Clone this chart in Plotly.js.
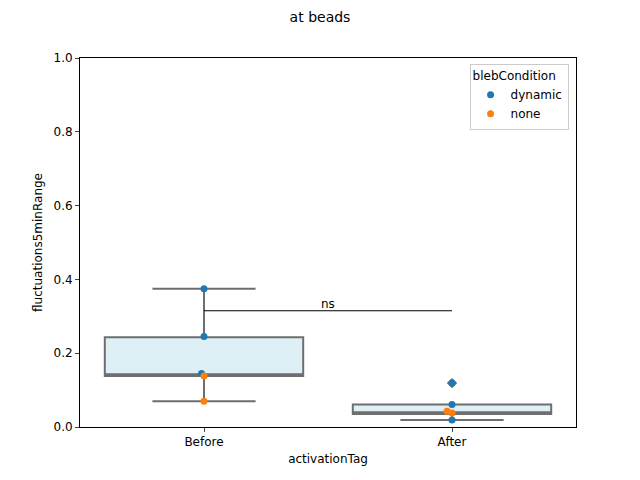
<!DOCTYPE html>
<html>
<head>
<script src="https://cdn.plot.ly/plotly-3.0.1.min.js"></script>
<style>body{margin:0}</style>
</head>
<body>
<div id="chart" style="width:640px;height:480px"></div>
<script>
// box stats per activationTag
var tags = ["Before", "After"];
var q1 = [0.138, 0.035];
var med = [0.143, 0.040];
var q3 = [0.243, 0.061];
var lowW = [0.070, 0.019];
var highW = [0.375, 0.061];
var outlierY = [0.119];
var outlierX = [1];

// strip points
var dynX = [0, 0, -0.01, 1, 1, 1];
var dynY = [0.375, 0.245, 0.145, 0.119, 0.061, 0.019];
var noneX = [0, 0, 0.98, 1];
var noneY = [0.070, 0.138, 0.043, 0.038];

var boxTrace = {
  type: "box", x: [0, 1], q1: q1, median: med, q3: q3,
  lowerfence: lowW, upperfence: highW, width: 0.8,
  fillcolor: "rgba(173,216,230,0.4)", line: {color: "#6e6e6e", width: 2},
  whiskerwidth: 0.52, showlegend: false, hoverinfo: "skip"
};
var outTrace = {
  type: "scatter", mode: "markers", x: outlierX, y: outlierY, showlegend: false,
  marker: {symbol: "diamond", size: 8, color: "#6e6e6e"}
};
var dyn = {type: "scatter", mode: "markers", x: dynX, y: dynY, name: "dynamic",
  marker: {color: "#1f77b4", size: 7}};
var none = {type: "scatter", mode: "markers", x: noneX, y: noneY, name: "none",
  marker: {color: "#ff7f0e", size: 7}};
var sig = {type: "scatter", mode: "lines", x: [0, 1], y: [0.315, 0.315], showlegend: false,
  line: {color: "black", width: 1.2}, hoverinfo: "skip"};

var layout = {
  width: 640, height: 480,
  margin: {l: 80, r: 64, t: 58, b: 53},
  paper_bgcolor: "white", plot_bgcolor: "white",
  font: {family: "DejaVu Sans", size: 12, color: "black"},
  title: {text: "at beads", x: 0.5, y: 0.975, font: {size: 14}},
  xaxis: {range: [-0.5, 1.5], tickvals: [0, 1], ticktext: tags, showgrid: false, zeroline: false,
    showline: true, mirror: true, linecolor: "black", ticks: "outside", ticklen: 4,
    title: {text: "activationTag", standoff: 6, font: {size: 12}}},
  yaxis: {range: [0, 1], dtick: 0.2, tickformat: ".1f", showgrid: false, zeroline: false,
    showline: true, mirror: true, linecolor: "black", ticks: "outside", ticklen: 4,
    title: {text: "fluctuations5minRange", standoff: 8, font: {size: 12}}},
  legend: {x: 0.985, y: 0.985, xanchor: "right", yanchor: "top",
    bordercolor: "#cccccc", borderwidth: 1, bgcolor: "white",
    title: {text: "blebCondition", font: {size: 12}}, font: {size: 12}},
  annotations: [{x: 0.5, y: 0.315, text: "ns", showarrow: false, yanchor: "bottom", yshift: -2}]
};
Plotly.newPlot("chart", [boxTrace, sig, outTrace, dyn, none], layout, {displayModeBar: false});
</script>
</body>
</html>
